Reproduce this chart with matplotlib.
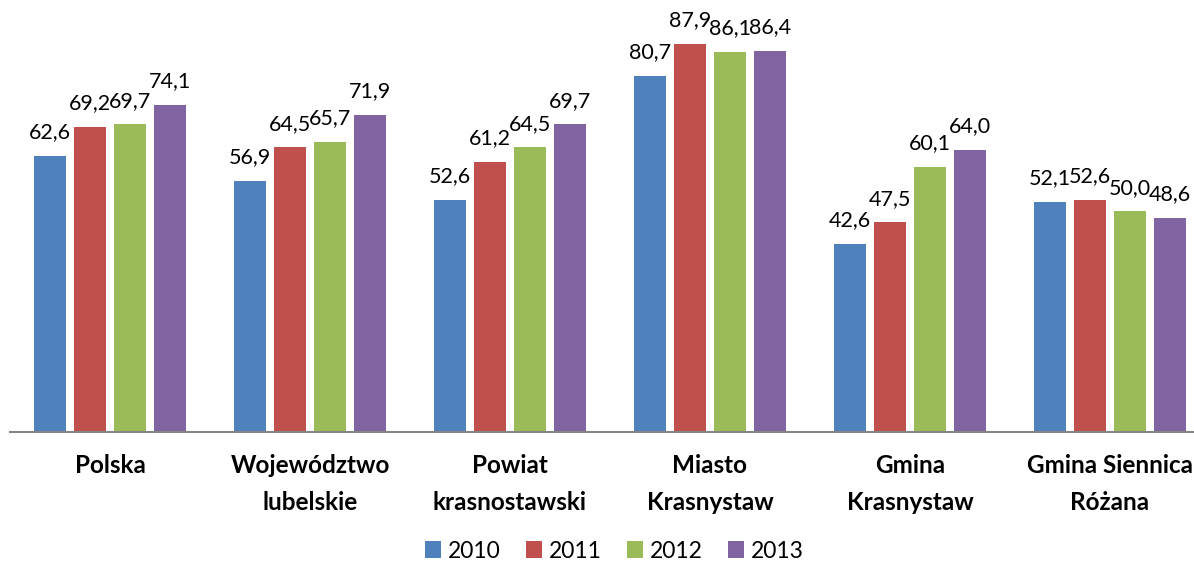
import numpy as np
import matplotlib.pyplot as plt

# Data
categories = ["Polska", "Województwo\nlubelskie", "Powiat\nkrasnostawski",
              "Miasto\nKrasnystaw", "Gmina\nKrasnystaw", "Gmina Siennica\nRóżana"]
years = ["2010", "2011", "2012", "2013"]
v2010 = [62.6, 56.9, 52.6, 80.7, 42.6, 52.1]
v2011 = [69.2, 64.5, 61.2, 87.9, 47.5, 52.6]
v2012 = [69.7, 65.7, 64.5, 86.1, 60.1, 50.0]
v2013 = [74.1, 71.9, 69.7, 86.4, 64.0, 48.6]
series = [v2010, v2011, v2012, v2013]
colors = ["#4F81BD", "#C0504D", "#9BBB59", "#8064A2"]

plt.rcParams['font.family'] = ['Lato', 'DejaVu Sans']

fig = plt.figure(figsize=(11.94, 5.63), dpi=100)
ax = fig.add_axes([10 / 1194, 1 - 432 / 563, 1 - 10 / 1194, 432 / 563])

x = np.arange(len(categories))
step = 0.2
width = 0.16
for i, (vals, col, yr) in enumerate(zip(series, colors, years)):
    pos = x + (i - 1.5) * step
    ax.bar(pos, vals, width, color=col, label=yr, zorder=2)
    for xp, v in zip(pos, vals):
        ax.text(xp, v + 4.0, f"{v:.1f}".replace(".", ","), ha="center", va="baseline",
                fontsize=15.5, color="#000000")

ax.set_xlim(-0.5, 5.42)
ax.set_ylim(0, 97.9)
ax.set_yticks([])
ax.set_xticks([])
for s in ["top", "right", "left"]:
    ax.spines[s].set_visible(False)
ax.spines["bottom"].set_color("#868686")
ax.spines["bottom"].set_linewidth(1.5)

for xi, cat in zip(x, categories):
    ax.text(xi, -5.0, cat, ha="center", va="top", fontsize=17.5, fontweight="bold",
            linespacing=1.75, clip_on=False)

fig.legend(loc="center", bbox_to_anchor=(614 / 1194, 1 - 551 / 563), ncol=4,
           frameon=False, fontsize=16.5, handlelength=0.7, handleheight=0.7,
           handletextpad=0.3, columnspacing=1.1)

fig.savefig("out.png", dpi=100)
